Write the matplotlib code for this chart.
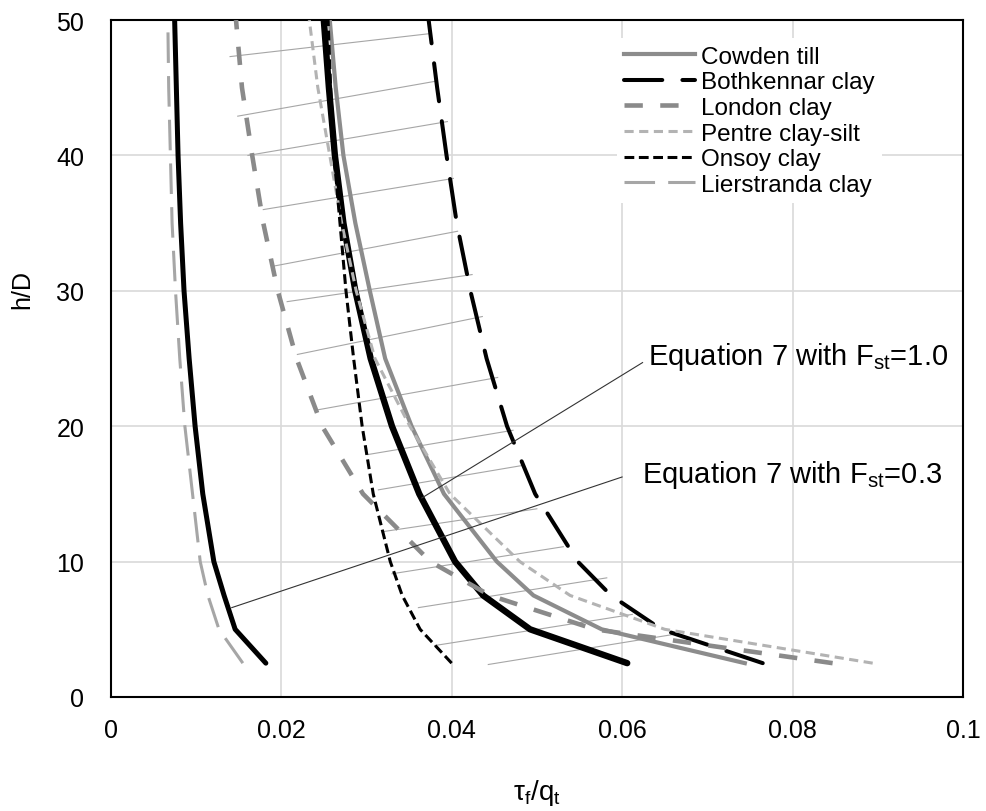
import matplotlib.pyplot as plt

plt.rcParams['font.family'] = ['Liberation Sans', 'DejaVu Sans']
plt.rcParams['mathtext.fontset'] = 'custom'
plt.rcParams['mathtext.rm'] = 'Liberation Sans'
plt.rcParams['mathtext.it'] = 'Liberation Sans:italic'
plt.rcParams['mathtext.bf'] = 'Liberation Sans:bold'

# h/D levels
h_d = [2.5, 5, 7.5, 10, 15, 20, 25, 30, 35, 40, 45, 50]

# tau_f/q_t for each soil
cowden = [0.0744, 0.0576, 0.0496, 0.0453, 0.0391, 0.0353, 0.0322, 0.0304, 0.0287, 0.0273, 0.0264, 0.0257]
bothkennar = [0.0765, 0.0646, 0.0587, 0.0548, 0.0498, 0.0465, 0.0441, 0.0422, 0.0406, 0.0394, 0.0383, 0.0373]
london = [0.0847, 0.0568, 0.0445, 0.0375, 0.0296, 0.0248, 0.0218, 0.0196, 0.0179, 0.0166, 0.0154, 0.0147]
pentre = [0.0894, 0.0650, 0.0539, 0.0480, 0.0398, 0.0351, 0.0310, 0.0288, 0.0271, 0.0257, 0.0243, 0.0233]
onsoy = [0.0400, 0.0363, 0.0342, 0.0328, 0.0308, 0.0295, 0.0285, 0.0276, 0.0269, 0.0262, 0.0258, 0.0255]
lierstranda = [0.0155, 0.0127, 0.0114, 0.0105, 0.0096, 0.0087, 0.0081, 0.0076, 0.0072, 0.0070, 0.0068, 0.0067]

# Equation 7 curves
eq_fst10 = [0.0606, 0.0492, 0.0437, 0.0404, 0.0362, 0.0330, 0.0305, 0.0287, 0.0273, 0.0263, 0.0256, 0.0250]
eq_fst03 = [0.0182, 0.0146, 0.0133, 0.0121, 0.0108, 0.0099, 0.0092, 0.0086, 0.0082, 0.0079, 0.0077, 0.0075]

# thin hatch lines between London and Bothkennar
hatch_x0 = [0.0140, 0.0149, 0.0161, 0.0179, 0.0189, 0.0207, 0.0219, 0.0242, 0.0301, 0.0314, 0.0318, 0.0330, 0.0361, 0.0380, 0.0443]
hatch_y0 = [47.3, 42.9, 40.0, 36.0, 31.8, 29.2, 25.3, 21.2, 17.9, 15.3, 12.2, 9.1, 6.6, 3.8, 2.4]
hatch_x1 = [0.0375, 0.0383, 0.0395, 0.0402, 0.0407, 0.0424, 0.0436, 0.0454, 0.0472, 0.0483, 0.0500, 0.0531, 0.0582, 0.0612, 0.0668]
hatch_y1 = [49.0, 45.5, 42.5, 38.3, 34.4, 31.2, 28.1, 23.6, 19.7, 17.1, 13.9, 11.1, 8.8, 6.1, 4.7]

x_ticks = [0, 0.02, 0.04, 0.06, 0.08, 0.1]
x_tick_labels = ['0', '0.02', '0.04', '0.06', '0.08', '0.1']
y_ticks = [0, 10, 20, 30, 40, 50]

fig = plt.figure(figsize=(9.86, 8.12), dpi=100)
ax = fig.add_axes([0.1123, 0.1404, 0.8644, 0.8337])

for i in range(len(hatch_x0)):
    ax.plot([hatch_x0[i], hatch_x1[i]], [hatch_y0[i], hatch_y1[i]], color='#a6a6a6', lw=0.8, zorder=2)

ax.plot(eq_fst10, h_d, color='black', lw=4.6, solid_capstyle='round', zorder=3)
ax.plot(eq_fst03, h_d, color='black', lw=3.6, solid_capstyle='round', zorder=3)

ax.plot(cowden, h_d, color='#8c8c8c', lw=3.0, label='Cowden till', zorder=4)
ax.plot(bothkennar, h_d, color='black', lw=2.9, dashes=(9.5, 5), dash_capstyle='round',
        label='Bothkennar clay', zorder=4)
ax.plot(london, h_d, color='#8a8a8a', lw=3.3, dashes=(4, 3.8), label='London clay', zorder=4)
ax.plot(pentre, h_d, color='#b3b3b3', lw=2.2, dashes=(3, 1.8), label='Pentre clay-silt', zorder=4)
ax.plot(onsoy, h_d, color='black', lw=2.2, dashes=(3.2, 1.5), label='Onsoy clay', zorder=4)
ax.plot(lierstranda, h_d, color='#a6a6a6', lw=2.2, dashes=(10, 4.3), label='Lierstranda clay', zorder=4)

# leader lines and labels for equation 7
ax.plot([0.0365, 0.0624], [14.7, 24.7], color='#333333', lw=0.8, zorder=5)
ax.plot([0.0142, 0.0600], [6.6, 16.25], color='#333333', lw=0.8, zorder=5)
ax.text(0.0630, 24.6, r'Equation 7 with F$_{\mathrm{st}}$=1.0', fontsize=21, va='baseline', ha='left')
ax.text(0.0623, 15.9, r'Equation 7 with F$_{\mathrm{st}}$=0.3', fontsize=21, va='baseline', ha='left')

ax.set_xlim(0, 0.1)
ax.set_ylim(0, 50)
ax.set_xticks(x_ticks)
ax.set_xticklabels(x_tick_labels)
ax.set_yticks(y_ticks)
ax.tick_params(length=0, labelsize=18)
ax.tick_params(axis='x', pad=15)
ax.tick_params(axis='y', pad=19)
ax.grid(color='#d9d9d9', lw=1.2)
ax.set_axisbelow(True)
for s in ax.spines.values():
    s.set_linewidth(1.5)
    s.set_color('black')

ax.set_ylabel('h/D', fontsize=18)
ax.yaxis.set_label_coords(-0.090, 0.603)
ax.set_xlabel(r'$\mathrm{τ_f/q_t}$', fontsize=20)
ax.xaxis.set_label_coords(0.5, -0.118)

ax.legend(loc='upper left', bbox_to_anchor=(0.594, 0.973), frameon=True, fancybox=False,
          edgecolor='none', facecolor='white', framealpha=1, fontsize=17.5,
          handlelength=2.9, handletextpad=0.25, labelspacing=0.15, borderpad=0.3,
          borderaxespad=0)

fig.savefig('out.png', dpi=100)
